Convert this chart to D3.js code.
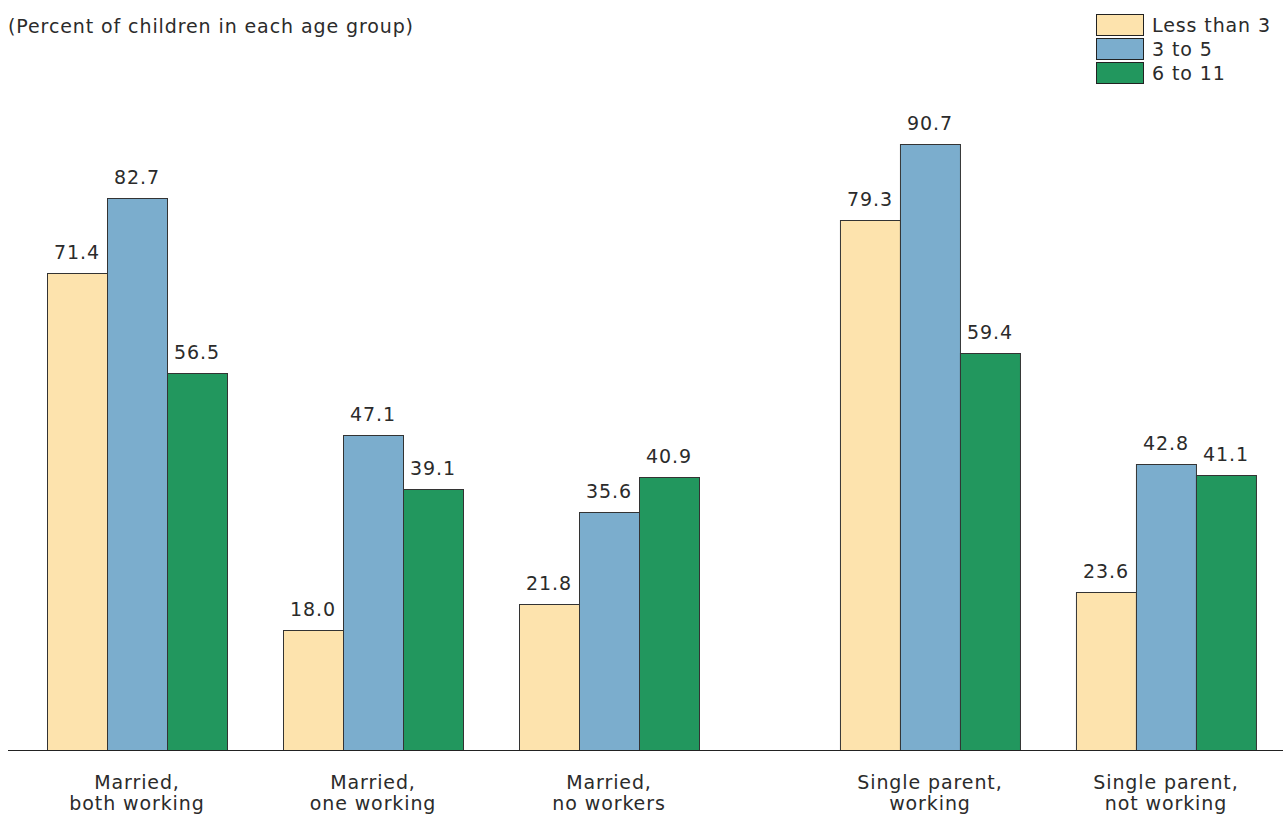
<!DOCTYPE html>
<html>
<head>
<meta charset="utf-8">
<script src="https://cdn.jsdelivr.net/npm/d3@7"></script>
<style>
  body { margin: 0; background: #fff; }
  svg text { font-family: "DejaVu Sans", sans-serif; fill: #2b2b2b; letter-spacing: 0.9px; }
</style>
</head>
<body>
<div id="chart"></div>
<script>
// categories (two-line labels) and series
var categories = [
    ["Married,", "both working"],
    ["Married,", "one working"],
    ["Married,", "no workers"],
    ["Single parent,", "working"],
    ["Single parent,", "not working"]
];
var seriesNames = ["Less than 3", "3 to 5", "6 to 11"];
var lessThan3 = [71.4, 18.0, 21.8, 79.3, 23.6];
var age3to5 = [82.7, 47.1, 35.6, 90.7, 42.8];
var age6to11 = [56.5, 39.1, 40.9, 59.4, 41.1];
var colors = ["#fde3ad", "#7badcd", "#22975e"];

var W = 1283, H = 816;
var baseY = 750;
var fs = "19px";

var svg = d3.select("#chart").append("svg")
    .attr("width", W).attr("height", H);

// group slots: extra gap between married and single parent groups
var slot = categories.map(function(d, i) { return i < 3 ? i : i + 0.36; });
var x = d3.scaleLinear().domain([0, 1]).range([47, 283]);
var sub = d3.scaleBand().domain(d3.range(3)).range([0, 180]).padding(0);
var y = d3.scaleLinear().domain([0, 100]).range([baseY, 82]);

var series = [lessThan3, age3to5, age6to11];
var bars = [];
categories.forEach(function(c, i) {
    series.forEach(function(s, k) {
        bars.push({ g: i, k: k, v: s[i] });
    });
});

svg.append("g").selectAll("rect").data(bars).enter().append("rect")
    .attr("x", function(d) { return x(slot[d.g]) + sub(d.k) + 0.5; })
    .attr("y", function(d) { return Math.round(y(d.v)) + 0.5; })
    .attr("width", sub.bandwidth())
    .attr("height", function(d) { return baseY - Math.round(y(d.v)); })
    .attr("fill", function(d) { return colors[d.k]; })
    .attr("stroke", "#333")
    .attr("stroke-width", 1);

svg.append("g").selectAll("text").data(bars).enter().append("text")
    .attr("x", function(d) { return x(slot[d.g]) + sub(d.k) + sub.bandwidth() / 2; })
    .attr("y", function(d) { return y(d.v) - 14; })
    .attr("text-anchor", "middle")
    .style("font-size", fs)
    .text(function(d) { return d.v.toFixed(1); });

// baseline
svg.append("line")
    .attr("x1", 8).attr("x2", W)
    .attr("y1", baseY + 0.5).attr("y2", baseY + 0.5)
    .attr("stroke", "#222").attr("stroke-width", 1.2);

// category labels
var cl = svg.append("g").selectAll("text").data(categories).enter().append("text")
    .attr("text-anchor", "middle")
    .style("font-size", fs)
    .attr("transform", function(d, i) { return "translate(" + (x(slot[i]) + 90) + ",789)"; });
cl.append("tspan").attr("x", 0).attr("y", 0).text(function(d) { return d[0]; });
cl.append("tspan").attr("x", 0).attr("y", 21).text(function(d) { return d[1]; });

// subtitle
svg.append("text")
    .attr("x", 8).attr("y", 33)
    .style("font-size", fs)
    .text("(Percent of children in each age group)");

// legend
var lg = svg.append("g").attr("transform", "translate(1096,14)");
var li = lg.selectAll("g").data(seriesNames).enter().append("g")
    .attr("transform", function(d, i) { return "translate(0," + (i * 24) + ")"; });
li.append("rect")
    .attr("x", 0.5).attr("y", 0.5)
    .attr("width", 47).attr("height", 21)
    .attr("fill", function(d, i) { return colors[i]; })
    .attr("stroke", "#222");
li.append("text")
    .attr("x", 56).attr("y", 18)
    .style("font-size", fs)
    .text(function(d) { return d; });
</script>
</body>
</html>
